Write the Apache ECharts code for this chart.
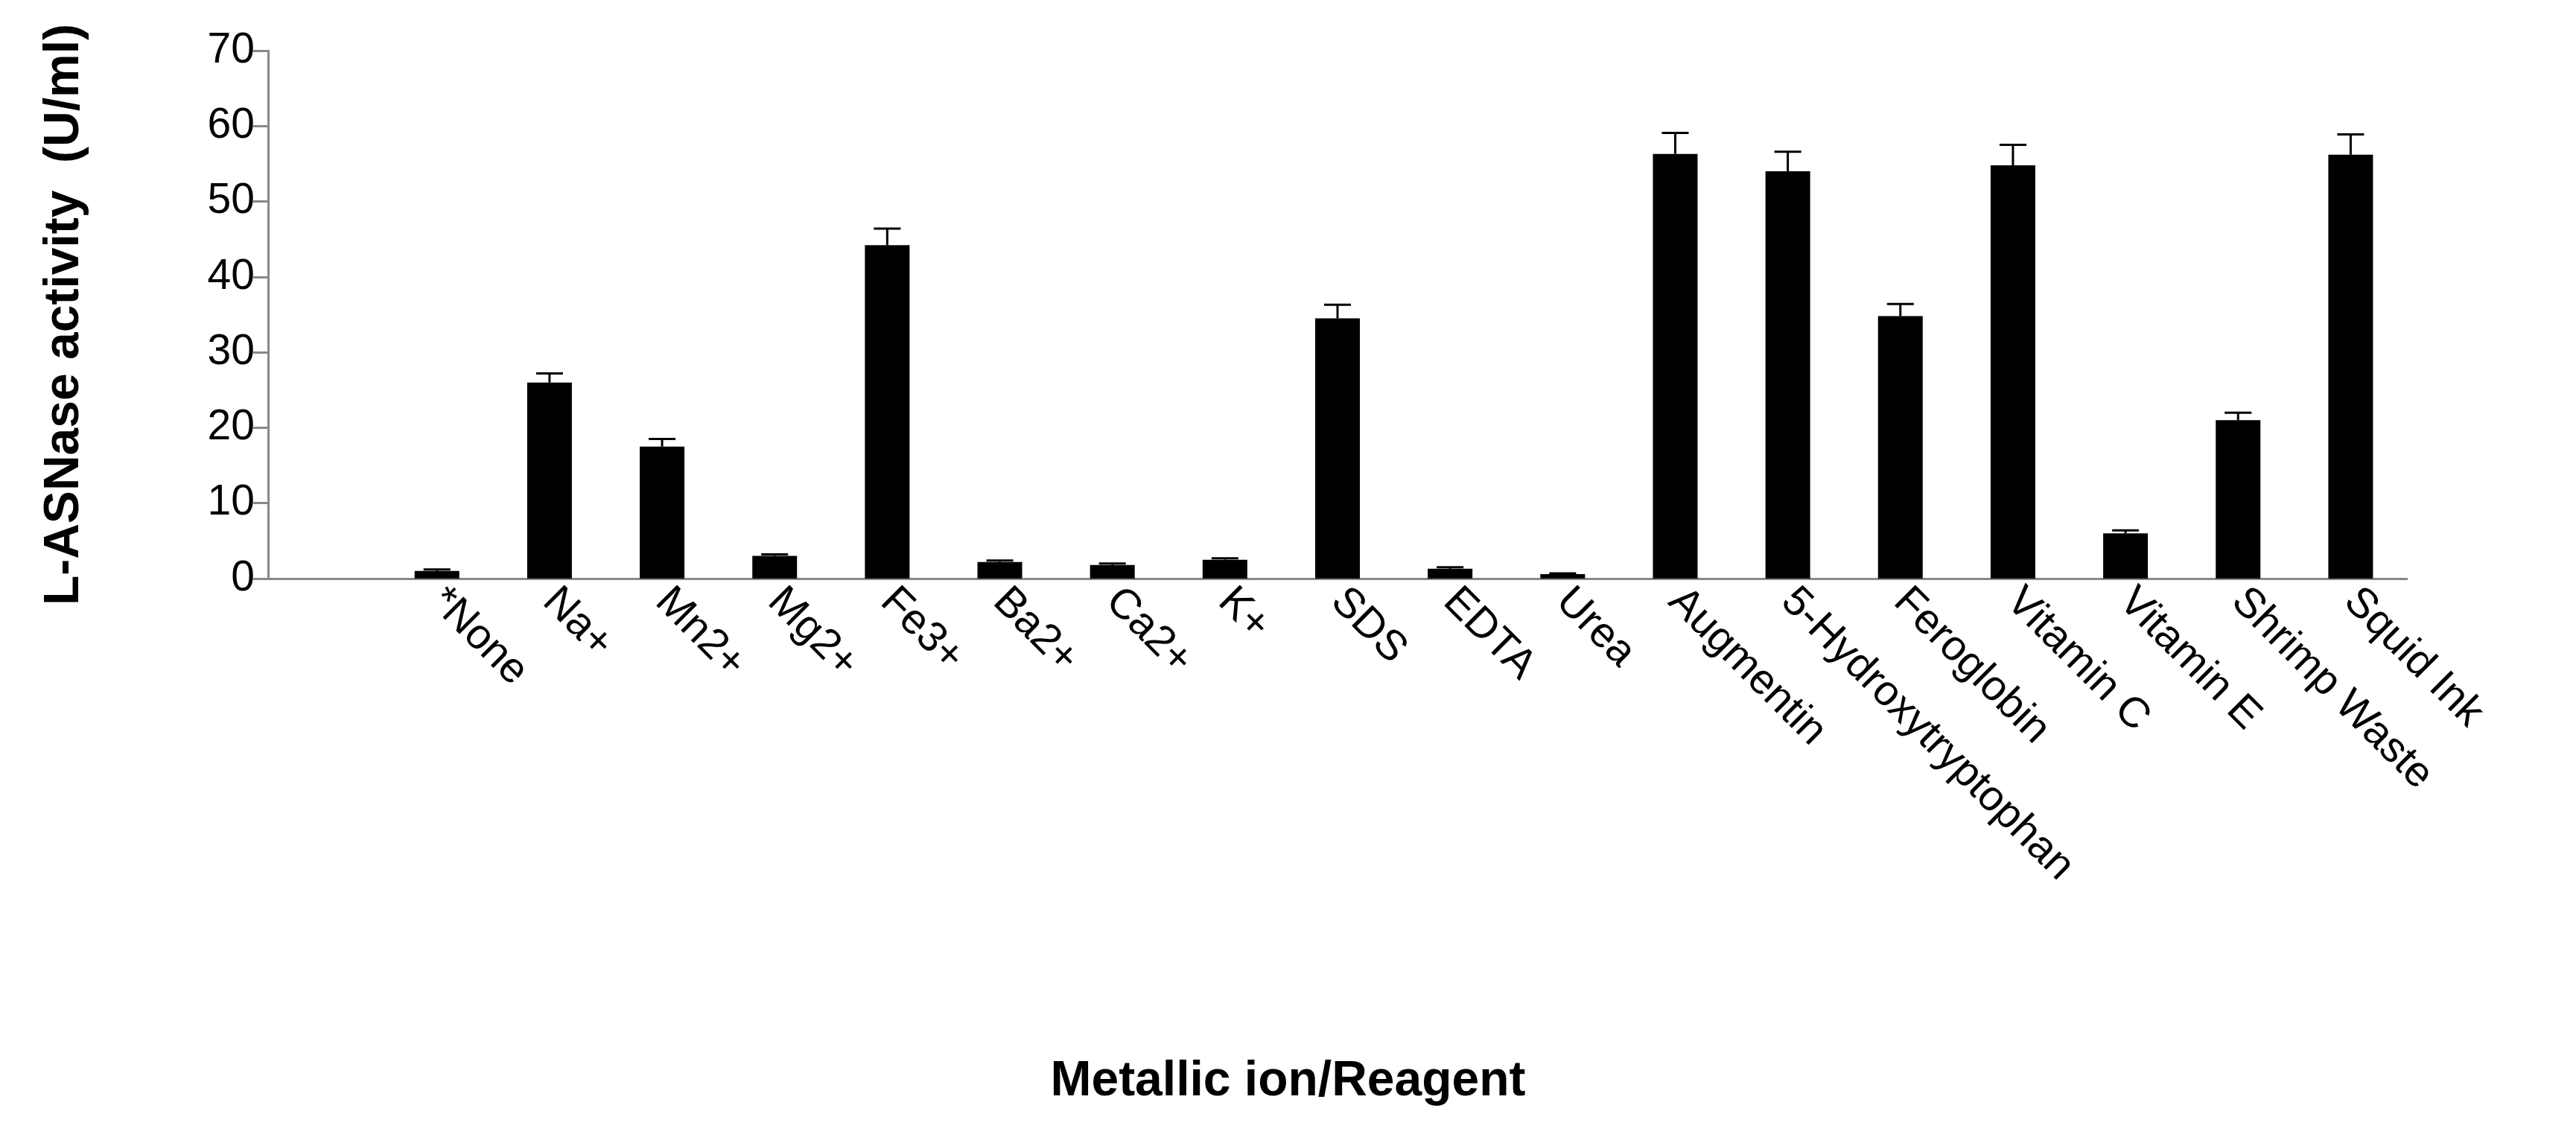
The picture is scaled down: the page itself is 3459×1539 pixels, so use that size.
<!DOCTYPE html><html><head><meta charset="utf-8"><script src="https://cdn.jsdelivr.net/npm/echarts@6/dist/echarts.min.js"></script>
<style>html,body{margin:0;background:#fff}#c{width:3459px;height:1539px}</style></head><body><div id="c"></div><script>
const categories=['','*None','Na+','Mn2+','Mg2+','Fe3+','Ba2+','Ca2+','K+','SDS','EDTA','Urea','Augmentin','5-Hydroxytryptophan','Feroglobin','Vitamin C','Vitamin E','Shrimp Waste','Squid Ink'];
const values=[null,1,26,17.5,3,44.2,2.2,1.8,2.5,34.5,1.3,0.6,56.3,54,34.8,54.8,6,21,56.2];
const errors=[null,0.2,1.2,1,0.2,2.2,0.2,0.2,0.2,1.8,0.2,0.1,2.8,2.6,1.6,2.7,0.4,1,2.7];
const yTicks=[0,10,20,30,40,50,60,70];
const xTitle='Metallic ion/Reagent';
const font='Liberation Sans, Arial, sans-serif';
const chart=echarts.init(document.getElementById('c'));
chart.setOption({animation:false,
grid:{left:360,right:227,top:68,bottom:762,containLabel:false,outerBoundsMode:'none'},
graphic:[{type:'text',left:'center',top:1420,x:-180,style:{text:xTitle,font:'bold 66px '+font,fill:'#000'}}],
xAxis:{type:'category',data:categories,
 axisLine:{lineStyle:{color:'#888',width:3}},axisTick:{length:22,lineStyle:{color:'#888',width:3}},
 axisLabel:{interval:0,rotate:-45,fontFamily:font,fontSize:57,color:'#000',margin:22}},
yAxis:{type:'value',min:0,max:70,interval:10,
 name:'L-ASNase activity  (U/ml)',nameLocation:'middle',nameGap:240,
 nameTextStyle:{fontFamily:font,fontWeight:'bold',fontSize:66,color:'#000'},
 axisLine:{show:true,lineStyle:{color:'#888',width:3}},axisTick:{show:true,length:20,lineStyle:{color:'#888',width:3}},
 splitLine:{show:false},
 axisLabel:{showMinLabel:true,showMaxLabel:true,hideOverlap:false,fontFamily:font,fontSize:57,color:'#000',margin:18}},
series:[{type:'bar',data:values,barWidth:60,itemStyle:{color:'#000'}},
{type:'custom',data:values.map((v,i)=>v==null?null:[i,v,errors[i]]).filter(d=>d),
 renderItem:(p,api)=>{const x=api.value(0),v=api.value(1),e=api.value(2);
  const a=api.coord([x,v]),b=api.coord([x,v+e]);const w=18;
  return {type:'group',children:[
   {type:'line',shape:{x1:a[0],y1:a[1],x2:b[0],y2:b[1]},style:{stroke:'#000',lineWidth:3}},
   {type:'line',shape:{x1:b[0]-w,y1:b[1],x2:b[0]+w,y2:b[1]},style:{stroke:'#000',lineWidth:3}}]};},
 z:5}]});
</script></body></html>
